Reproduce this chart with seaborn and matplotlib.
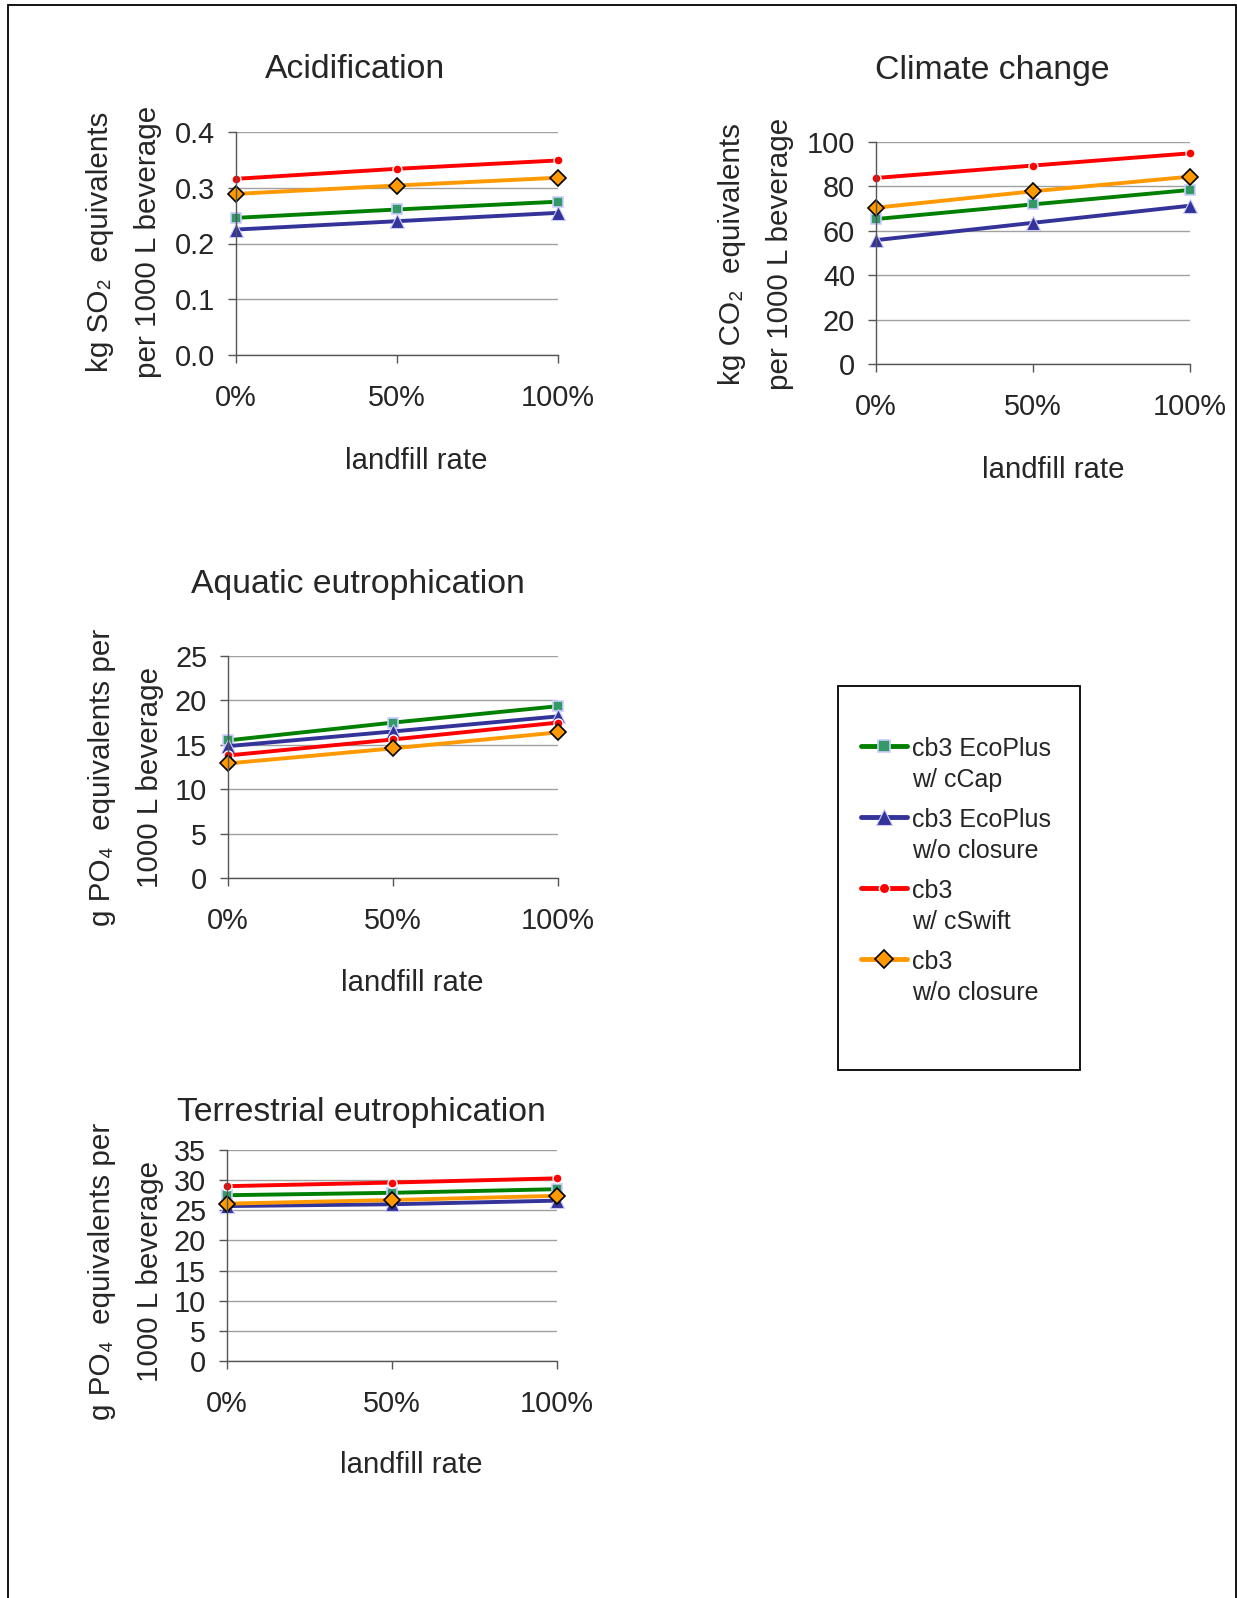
import matplotlib
matplotlib.use("Agg")
import matplotlib.pyplot as plt
from matplotlib.patches import Rectangle
import seaborn as sns
import pandas as pd

# ---------------- data ----------------
rates = ["0%", "50%", "100%"]
series_labels = ["cb3 EcoPlus\nw/ cCap", "cb3 EcoPlus\nw/o closure",
                 "cb3\nw/ cSwift", "cb3\nw/o closure"]

acid_ecoplus_ccap = [0.246, 0.261, 0.275]
acid_ecoplus_noclos = [0.225, 0.240, 0.255]
acid_cb3_cswift = [0.316, 0.334, 0.349]
acid_cb3_noclos = [0.289, 0.304, 0.318]

clim_ecoplus_ccap = [65.3, 71.9, 78.4]
clim_ecoplus_noclos = [55.8, 63.6, 71.3]
clim_cb3_cswift = [83.8, 89.4, 94.9]
clim_cb3_noclos = [70.4, 77.8, 84.4]

aqua_ecoplus_ccap = [15.5, 17.5, 19.35]
aqua_ecoplus_noclos = [14.85, 16.5, 18.2]
aqua_cb3_cswift = [13.8, 15.6, 17.5]
aqua_cb3_noclos = [12.9, 14.6, 16.4]

terr_ecoplus_ccap = [27.5, 27.9, 28.5]
terr_ecoplus_noclos = [25.7, 26.0, 26.6]
terr_cb3_cswift = [29.0, 29.6, 30.3]
terr_cb3_noclos = [26.1, 26.7, 27.4]

acid_yticks = [0.0, 0.1, 0.2, 0.3, 0.4]
clim_yticks = [0, 20, 40, 60, 80, 100]
aqua_yticks = [0, 5, 10, 15, 20, 25]
terr_yticks = [0, 5, 10, 15, 20, 25, 30, 35]

# ---------------- styling ----------------
sns.set_style("white")
plt.rcParams["font.family"] = ["Liberation Sans", "DejaVu Sans"]

W, H = 1237, 1598
fig = plt.figure(figsize=(W / 100, H / 100), dpi=100)

styles = [
    dict(color="#008000", marker="s", markerfacecolor="#339966",
         markeredgecolor="#ccccff", markersize=7.5, markeredgewidth=1.2),
    dict(color="#333399", marker="^", markerfacecolor="#333399",
         markeredgecolor="#ccccff", markersize=9.5, markeredgewidth=0.8),
    dict(color="#ff0000", marker="o", markerfacecolor="#ff0000",
         markeredgecolor="#ffffff", markersize=6.5, markeredgewidth=1.0),
    dict(color="#ff9900", marker="D", markerfacecolor="#ff9900",
         markeredgecolor="#000000", markersize=8, markeredgewidth=1.2),
]


def px_axes(left, right, top, bottom):
    return fig.add_axes([left / W, 1 - bottom / H, (right - left) / W, (bottom - top) / H])


def draw(ax, series, yticks, fmt, title, title_xy, xlabel_xy, ylab, ylab_x, ylab_y):
    for vals, lab, st in zip(series, series_labels, styles):
        df = pd.DataFrame({"rate": rates, "value": vals})
        sns.lineplot(data=df, x="rate", y="value", ax=ax, sort=False,
                     linewidth=2.8, label=lab, legend=False, **st)
    for ln in ax.lines:
        ln.set_clip_on(False)
    ax.set_xlim(0, 2)
    ax.set_ylim(yticks[0], yticks[-1])
    ax.set_yticks(yticks)
    ax.set_yticklabels([fmt.format(v) for v in yticks])
    ax.set_xlabel("")
    ax.set_ylabel("")
    ax.grid(axis="y", color="#a0a0a0", linewidth=1.0)
    ax.grid(axis="x", visible=False)
    for s in ["top", "right"]:
        ax.spines[s].set_visible(False)
    for s in ["left", "bottom"]:
        ax.spines[s].set_color("#555555")
        ax.spines[s].set_linewidth(1.0)
    ax.tick_params(axis="x", direction="out", length=6, width=1, color="#555555",
                   labelsize=20.8, pad=15, bottom=True)
    ax.tick_params(axis="y", direction="out", length=6, width=1, color="#555555",
                   labelsize=20.8, pad=9, left=True)
    ax.set_facecolor("white")
    fig.text(title_xy[0] / W, 1 - title_xy[1] / H, title, ha="center", va="center",
             fontsize=24.3)
    fig.text(xlabel_xy[0] / W, 1 - xlabel_xy[1] / H, "landfill rate", ha="center", va="center",
             fontsize=21.2)
    for t, x in zip(ylab, ylab_x):
        fig.text(x / W, 1 - ylab_y / H, t, ha="center", va="center", rotation=90,
                 fontsize=21.3)


ax1 = px_axes(236, 558, 132, 355)
draw(ax1, [acid_ecoplus_ccap, acid_ecoplus_noclos, acid_cb3_cswift, acid_cb3_noclos],
     acid_yticks, "{:.1f}", "Acidification", (355, 70), (416, 461),
     ["kg SO\u2082  equivalents", "per 1000 L beverage"], [100, 148], 242)

ax2 = px_axes(876, 1190, 142, 364)
draw(ax2, [clim_ecoplus_ccap, clim_ecoplus_noclos, clim_cb3_cswift, clim_cb3_noclos],
     clim_yticks, "{:.0f}", "Climate change", (992, 70), (1053, 470),
     ["kg CO\u2082  equivalents", "per 1000 L beverage"], [732, 780], 254)

ax3 = px_axes(228, 558, 656, 878)
draw(ax3, [aqua_ecoplus_ccap, aqua_ecoplus_noclos, aqua_cb3_cswift, aqua_cb3_noclos],
     aqua_yticks, "{:.0f}", "Aquatic eutrophication", (358, 584), (412, 983),
     ["g PO\u2084  equivalents per", "1000 L beverage"], [102, 150], 777)

ax4 = px_axes(227, 557, 1150, 1361)
draw(ax4, [terr_ecoplus_ccap, terr_ecoplus_noclos, terr_cb3_cswift, terr_cb3_noclos],
     terr_yticks, "{:.0f}", "Terrestrial eutrophication", (361, 1113), (411, 1465),
     ["g PO\u2084  equivalents per", "1000 L beverage"], [102, 150], 1271)

# legend
handles = ax1.lines[:4]
leg = fig.legend(handles, series_labels, loc="upper left",
                 bbox_to_anchor=(861 / W, 1 - 737 / H), frameon=False, fontsize=18,
                 handlelength=1.85, handletextpad=0.2, labelspacing=0.66,
                 borderaxespad=0, borderpad=0)
for t in leg.get_texts():
    t.set_linespacing(1.35)
for h in leg.legend_handles:
    h.set_linewidth(3.5)
    h.set_markersize(h.get_markersize() * 1.15)
# align handles with the first line of each label
try:
    for col in leg._legend_handle_box.get_children():
        for item in col.get_children():
            item.align = "top"
except Exception:
    pass
fig.patches.append(Rectangle((838 / W, 1 - 1070 / H), (1080 - 838) / W, (1070 - 686) / H,
                             transform=fig.transFigure, fill=False, edgecolor="black",
                             linewidth=1.3))
# outer frame
fig.patches.append(Rectangle((8 / W, -0.05), (1236 - 8) / W, 1.05 - 5 / H,
                             transform=fig.transFigure, fill=False, edgecolor="black",
                             linewidth=1.3))

fig.savefig("out.png", dpi=100, facecolor="white")
